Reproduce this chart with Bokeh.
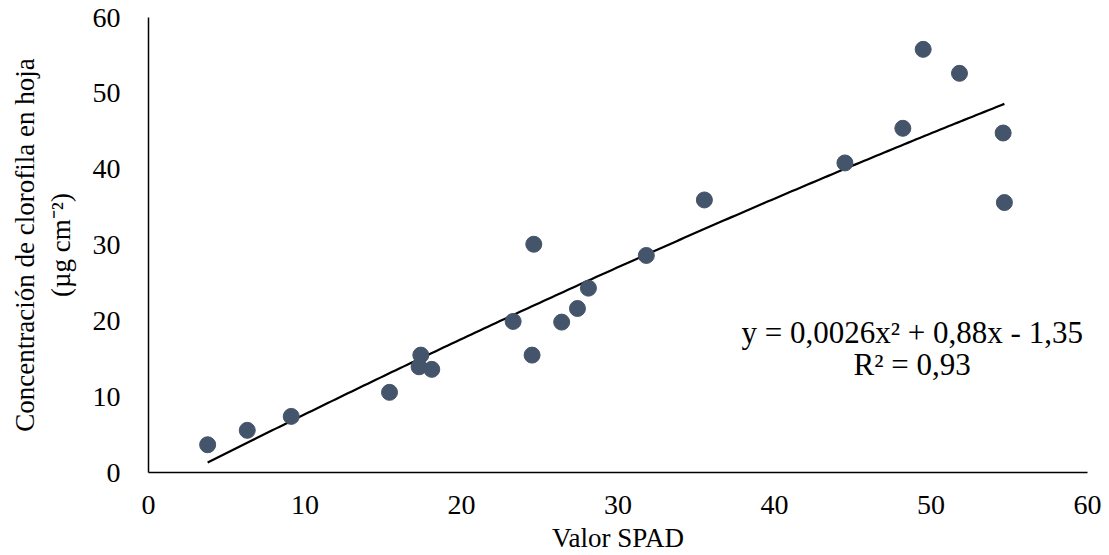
import numpy as np
from bokeh.plotting import figure
from bokeh.models import ColumnDataSource, Label, FixedTicker
from bokeh.embed import file_html
from bokeh.resources import INLINE

spad = [3.78, 6.31, 9.12, 15.40, 17.40, 17.29, 18.10, 23.30, 24.51, 24.62, 26.40,
        27.41, 28.11, 31.81, 35.52, 44.50, 48.20, 49.50, 51.82, 54.61, 54.69]
chl = [3.66, 5.56, 7.40, 10.57, 15.48, 13.94, 13.60, 19.92, 15.48, 30.10, 19.83,
       21.63, 24.31, 28.62, 35.94, 40.82, 45.39, 55.80, 52.64, 44.77, 35.60]
x_ticks = [0, 10, 20, 30, 40, 50, 60]
y_ticks = [0, 10, 20, 30, 40, 50, 60]
eq_text = "y = 0,0026x² + 0,88x - 1,35"
r2_text = "R² = 0,93"

FONT = "Liberation Serif"

p = figure(width=1109, height=555, output_backend="svg", toolbar_location=None,
           x_range=(0, 60), y_range=(0, 60),
           min_border_left=148, min_border_right=22, min_border_top=17, min_border_bottom=83)
p.outline_line_color = None
p.xgrid.visible = False
p.ygrid.visible = False
p.background_fill_color = "white"
p.border_fill_color = "white"

for ax in (p.xaxis[0], p.yaxis[0]):
    ax.major_tick_line_color = None
    ax.minor_tick_line_color = None
    ax.axis_line_color = "black"
    ax.axis_line_width = 1.5
    ax.major_label_text_font = FONT
    ax.major_label_text_font_size = "28px"
    ax.major_label_text_color = "black"
    ax.axis_label_text_font = FONT
    ax.axis_label_text_font_size = "27px"
    ax.axis_label_text_font_style = "normal"
    ax.axis_label_text_color = "black"

p.xaxis.ticker = FixedTicker(ticks=x_ticks)
p.yaxis.ticker = FixedTicker(ticks=y_ticks)
p.xaxis.major_label_standoff = 17
p.yaxis.major_label_standoff = 22
p.xaxis.axis_label = "Valor SPAD"
p.xaxis.axis_label_standoff = 6
p.yaxis.axis_label = "Concentración de clorofila en hoja\n(µg cm⁻²)"
p.yaxis.axis_label_standoff = 14

# quadratic trendline fitted to the data
coef = np.polyfit(spad, chl, 2)
xs = np.linspace(min(spad), max(spad), 200)
p.line(xs, np.polyval(coef, xs), line_color="black", line_width=2.2)

src = ColumnDataSource(dict(x=spad, y=chl))
p.scatter("x", "y", source=src, size=16, fill_color="#44546A", line_color="#44546A")

p.add_layout(Label(x=48.8, y=18.4, text=eq_text, text_align="center", text_baseline="middle",
                   text_font=FONT, text_font_size="31px", text_color="black"))
p.add_layout(Label(x=48.8, y=14.2, text=r2_text, text_align="center", text_baseline="middle",
                   text_font=FONT, text_font_size="31px", text_color="black"))

open("out.html", "w").write(file_html(p, INLINE))
